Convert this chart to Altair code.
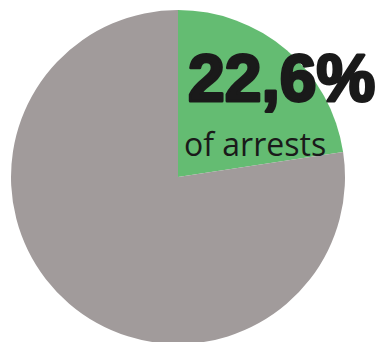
import altair as alt
import pandas as pd

categories = ["arrests", "other"]
values = [22.6, 77.4]
order_idx = [0, 1]
colors = ["#64bc72", "#a19b9b"]

big_label = ["22,6%"]
small_label = ["of arrests"]

df = pd.DataFrame({"cat": categories, "val": values, "ord": order_idx})

pie = alt.Chart(df).mark_arc(radius=167, stroke=None).encode(
    theta=alt.Theta("val:Q", stack=True),
    order=alt.Order("ord:Q"),
    color=alt.Color("cat:N", scale=alt.Scale(domain=categories, range=colors), legend=None),
    x=alt.value(178),
    y=alt.value(177),
)

t1 = alt.Chart(pd.DataFrame({"t": big_label})).mark_text(
    font="Liberation Sans", fontWeight="bold", fontSize=66, color="#1a1a1a",
    stroke="#1a1a1a", strokeWidth=3, strokeJoin="round",
    align="left", baseline="alphabetic",
).encode(text="t:N", x=alt.value(188), y=alt.value(101))

t2 = alt.Chart(pd.DataFrame({"t": small_label})).mark_text(
    font="Open Sans", fontSize=32, color="#1a1a1a",
    align="left", baseline="alphabetic",
).encode(text="t:N", x=alt.value(184), y=alt.value(156))

chart = alt.layer(pie, t1, t2).properties(
    width=383, height=342, padding=0, autosize=alt.AutoSizeParams(type="none")
).configure_view(stroke=None)

chart.save("out.html", embed_options={"renderer": "svg", "actions": False})
